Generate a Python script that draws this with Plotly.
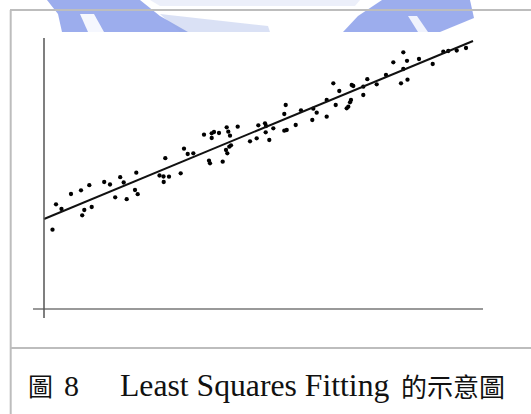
import plotly.graph_objects as go

# Page geometry (pixels)
W, H = 531, 414

# Scatter observations (arbitrary units)
x_obs = [8.5, 12, 17.5, 27, 37, 45.3, 40.3, 38.2, 47.7, 60.2, 66, 71.2, 76.2, 79.7, 82.7,
         92.3, 91, 93.7, 115.5, 119.5, 125, 119.7, 121.3, 136.7, 140, 143.7, 149.3, 160,
         167.7, 170, 175, 167.7, 165, 166, 178.7, 182.7, 184.3, 186, 193.7, 182, 183.3,
         185.3, 187, 206, 212.7, 214.3, 221, 222, 221.7, 225.3, 229.3, 240.3, 242.7, 241.7,
         240.3, 251.7, 257, 268.3, 269.3, 272.7, 282.7, 282.7, 289.3, 291.7, 295.3, 304.3,
         306, 307, 302.7, 307.7, 309.3, 319.3, 319.3, 323.3, 332.7, 342, 349.3, 359.3, 363,
         357, 363.5, 359.3, 375, 388.7, 399.3, 404.3, 412.7, 422]
y_obs = [79.3, 104.7, 100, 115, 118.7, 123.8, 99, 93.7, 102, 127, 124.5, 111.7, 131.8, 126.5,
         109.8, 136.3, 119, 114.8, 133.5, 132.5, 132.3, 127, 150.8, 135.7, 160.3, 155, 155.7,
         174.3, 175.7, 177, 176, 171, 148.3, 145.7, 147.3, 181.7, 177.3, 173.3, 182.3, 159,
         155.7, 162.3, 163.7, 167.7, 170.7, 183.7, 185.7, 183, 176.7, 169, 180.7, 178.3, 179,
         204, 195, 184, 198.7, 189, 200.3, 196.3, 192.3, 209, 225.7, 204, 218, 202.3, 206.7,
         209, 200.7, 224, 223, 214, 222.3, 229.8, 224.7, 234, 246.7, 256.7, 248.2, 225.7,
         229.3, 240, 250, 245, 257.3, 258, 258.5, 261]

# Fitted straight line (end points)
fit_x = [0, 429]
fit_y = [90, 268]

# Axis extents
x_axis_span = [-11, 439]
y_axis_span = [-9, 271]

# Caption pieces
caption_fig = "圖"
caption_num = "8"
caption_en = "Least Squares Fitting"
caption_zh = "的示意圖"

# Data origin sits at pixel (44, 309) on the page
OX, OY = 44, 309


def px(xp):
    return xp / W


def py(yp):
    return 1 - yp / H


fig = go.Figure()

fig.add_trace(go.Scatter(
    x=x_obs, y=y_obs, mode="markers",
    marker=dict(size=4.3, color="#000000", line=dict(width=0)),
    hoverinfo="skip",
))
fig.add_trace(go.Scatter(
    x=fit_x, y=fit_y, mode="lines",
    line=dict(color="#111111", width=1.9),
    hoverinfo="skip",
))

shapes = []

# Faded blue emblem peeking in at the top
blue = "rgba(128,150,232,0.78)"
pale = "rgba(150,168,225,0.35)"


def poly(pts, fill):
    d = "M " + " L ".join(f"{px(a):.5f},{py(b):.5f}" for a, b in pts) + " Z"
    return dict(type="path", xref="paper", yref="paper", path=d,
                fillcolor=fill, line=dict(width=0), layer="below")


shapes.append(poly([(47, 0), (140, 0), (160, 16), (188, 32), (62, 32), (58, 14)], blue))
shapes.append(poly([(80, 14), (94, 14), (104, 32), (88, 32)], "rgba(255,255,255,0.9)"))
shapes.append(poly([(160, 14), (268, 26), (270, 32), (180, 32)], pale))
shapes.append(poly([(150, 0), (360, 0), (355, 6), (160, 6)], "rgba(150,168,225,0.18)"))
shapes.append(poly([(382, 0), (470, 0), (474, 18), (440, 32), (343, 32), (358, 16)], blue))
shapes.append(poly([(408, 16), (417, 16), (428, 32), (418, 32)], "rgba(255,255,255,0.85)"))

# Page frame: left edge, top edge and caption separator
frame = "#bdbdbd"
shapes.append(dict(type="line", xref="paper", yref="paper",
                   x0=px(10.7), x1=px(10.7), y0=py(10), y1=py(H + 5),
                   line=dict(color=frame, width=2)))
shapes.append(dict(type="line", xref="paper", yref="paper",
                   x0=px(10), x1=px(W + 5), y0=py(10), y1=py(10),
                   line=dict(color=frame, width=2)))
shapes.append(dict(type="line", xref="paper", yref="paper",
                   x0=px(10), x1=px(W + 5), y0=py(348), y1=py(348),
                   line=dict(color=frame, width=2)))

# Chart axes drawn as crossing lines
shapes.append(dict(type="line", xref="x", yref="y",
                   x0=x_axis_span[0], x1=x_axis_span[1], y0=0, y1=0,
                   line=dict(color="#777777", width=1.5)))
shapes.append(dict(type="line", xref="x", yref="y",
                   x0=0, x1=0, y0=y_axis_span[0], y1=y_axis_span[1],
                   line=dict(color="#555555", width=1.5)))

serif = "Liberation Serif, Times New Roman, Noto Sans CJK TC, serif"
cjk = "Noto Sans CJK TC, Noto Sans CJK SC, sans-serif"
annotations = [
    dict(text=caption_fig, x=px(26), y=py(385), xanchor="left", yanchor="middle",
         font=dict(family=cjk, size=25, color="#111111")),
    dict(text=caption_num, x=px(62), y=py(385), xanchor="left", yanchor="middle",
         font=dict(family=serif, size=30, color="#111111")),
    dict(text=caption_en, x=px(118), y=py(385), xanchor="left", yanchor="middle",
         font=dict(family=serif, size=31.7, color="#111111")),
    dict(text=caption_zh, x=px(399), y=py(385), xanchor="left", yanchor="middle",
         font=dict(family=cjk, size=26, color="#111111")),
]
for a in annotations:
    a.update(xref="paper", yref="paper", showarrow=False)

fig.update_layout(
    width=W, height=H,
    margin=dict(l=0, r=0, t=0, b=0),
    paper_bgcolor="white", plot_bgcolor="white",
    showlegend=False,
    shapes=shapes,
    annotations=annotations,
    xaxis=dict(range=[-OX, W - OX], visible=False, fixedrange=True),
    yaxis=dict(range=[OY - H, OY], visible=False, fixedrange=True),
)

fig.write_html("out.html", config={"displayModeBar": False})
